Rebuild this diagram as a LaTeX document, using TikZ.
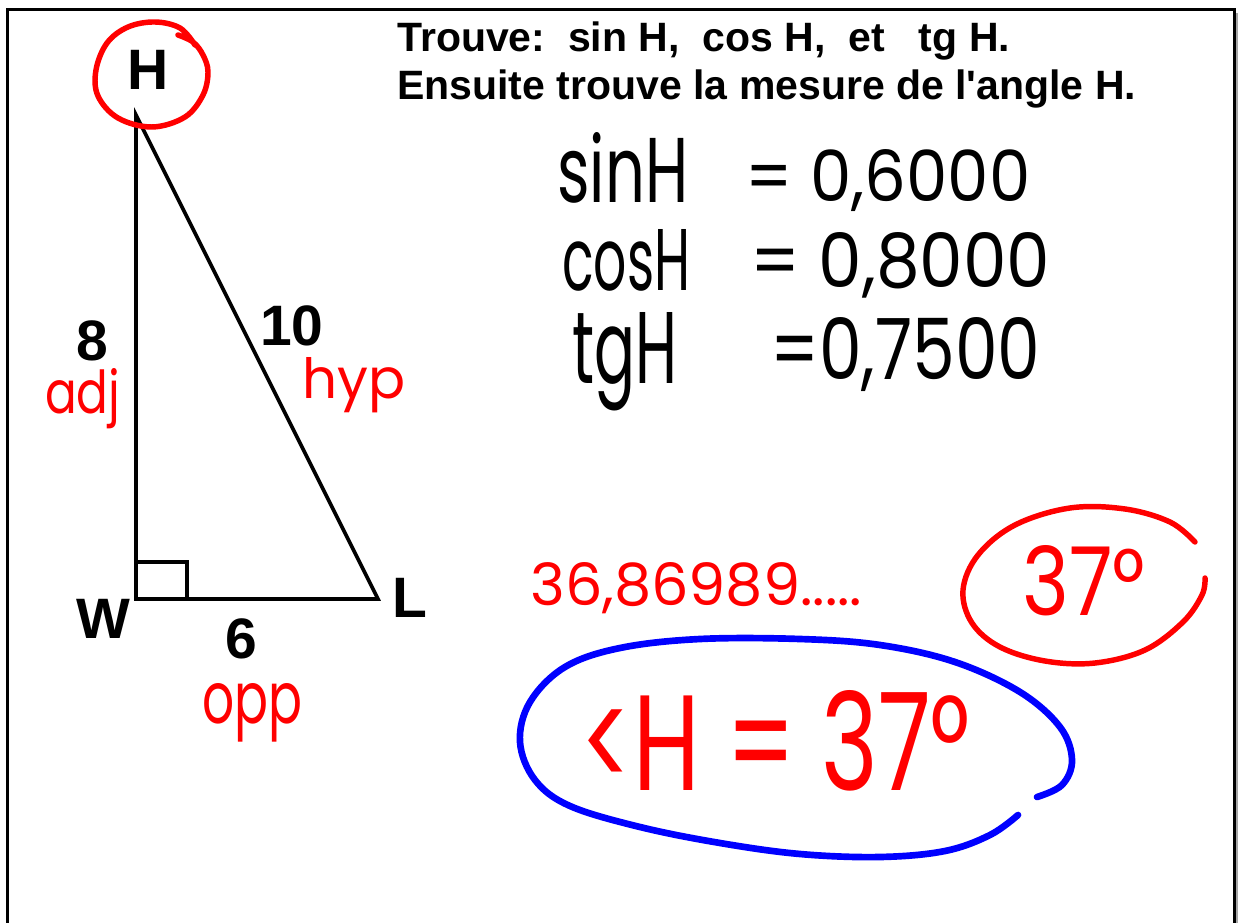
\documentclass[tikz,border=0pt]{standalone}
\usepackage{fontspec}
\usepackage{graphicx}
\newfontfamily\titlefont{Liberation Sans}
\newfontfamily\hand{Poppins}
\newlength\upx \setlength\upx{0.75pt}
\newcommand\hw[3]{\resizebox{#1\upx}{#2\upx}{\hand #3}}
\definecolor{penred}{RGB}{255,0,0}
\definecolor{penblue}{RGB}{0,0,255}
\begin{document}
\begin{tikzpicture}[x=0.75pt,y=-0.75pt,
  titletxt/.style={anchor=base west, inner sep=0pt, font={\titlefont\bfseries\fontsize{30.75}{36}\selectfont}},
  lbl/.style={anchor=base, inner sep=0pt, font={\titlefont\bfseries\fontsize{42.75}{48}\selectfont}},
  handtxt/.style={anchor=base west, inner sep=0pt, text=black},
  redtxt/.style={anchor=base west, inner sep=0pt, text=penred},
  redpen/.style={draw=penred, line width=4.1pt, line cap=round, line join=round},
  bluepen/.style={draw=penblue, line width=5pt, line cap=round, line join=round},
  edge/.style={line width=2.7pt, line join=miter}]
\useasboundingbox (0,0) rectangle (1238,923);
\fill[white] (0,0) rectangle (1238,923);
% frame
\draw[gray!70, line width=2.25pt] (1237,13) -- (1237,930);
\draw[line width=2.25pt] (7,930) -- (7,10) -- (1234,10) -- (1234,930);
% title
\node[titletxt] (t1) at (397,52) {Trouve:\ \ sin H,\ \ cos H,\ \ et\ \ \ tg H.};
\node[titletxt] (t2) at (397,100) {Ensuite trouve la mesure de l'angle H.};
% triangle
\coordinate (h) at (136,115);
\coordinate (w) at (136,599);
\coordinate (l) at (378,599);
\coordinate (ra1) at (136,562);
\coordinate (ra2) at (187,562);
\coordinate (ra3) at (187,599);
\draw[edge] (h) -- (w) -- (l) -- cycle;
\draw[edge] (ra1) -- (ra2) -- (ra3);
% labels
\node[lbl] (labH) at (148,90) {H};
\node[lbl] (labW) at (103,638) {W};
\node[lbl] (labL) at (410,617) {L};
\node[lbl] (lab8) at (92,360) {8};
\node[lbl] (lab10) at (292,345) {10};
\node[lbl] (lab6) at (241,658) {6};
% red circle around H
\draw[redpen] plot[smooth, tension=0.6] coordinates {(178,35) (193,42) (203,55) (208,72) (203,95) (185,117) (152,127) (118,118) (98,96) (96,70) (107,43) (128,27) (155,22) (180,28) (195,45)};
% red handwritten words
\node[redtxt] (adj) at (45,413) {\hw{75}{45}{adj}};
\node[redtxt] (hyp) at (302,398) {\hw{103}{41}{hyp}};
\node[redtxt] (opp) at (202,723) {\hw{100}{40}{opp}};
% formulas
\node[handtxt] (sinH) at (557,203) {\hw{131}{70}{sinH}};
\node[handtxt] (sinV) at (745,202) {\hw{285}{52}{= 0,6000}};
\node[handtxt] (cosH) at (562,291) {\hw{128}{61}{cosH}};
\node[handtxt] (cosV) at (750,288) {\hw{300}{55}{= 0,8000}};
\node[handtxt] (tgH) at (572,383) {\hw{105}{71}{tgH}};
\node[handtxt] (tgV) at (770,380) {\hw{270}{62}{=0,7500}};
% answer
\node[redtxt] (dec) at (530,605) {\hw{332}{43}{36,86989.....}};
\draw[redpen] plot[smooth, tension=0.6] coordinates {(1195,542) (1170,522) (1125,509) (1070,508) (1015,525) (978,555) (963,590) (972,623) (1000,647) (1045,661) (1095,663) (1145,650) (1183,622) (1202,595) (1205,578)};
\node[redtxt] (r37) at (1022,615) {\hw{123}{70}{37°}};
\draw[bluepen] plot[smooth, tension=0.6] coordinates {(1018,815) (990,835) (945,851) (880,857) (800,854) (720,843) (640,827) (570,806) (535,780) (520,742) (530,702) (565,667) (620,648) (700,639) (800,639) (880,645) (955,662) (1020,692) (1060,727) (1072,760) (1062,785) (1037,797)};
\node[redtxt] (angH) at (580,790) {\hw{390}{100}{<H = 37°}};
\end{tikzpicture}
\end{document}
